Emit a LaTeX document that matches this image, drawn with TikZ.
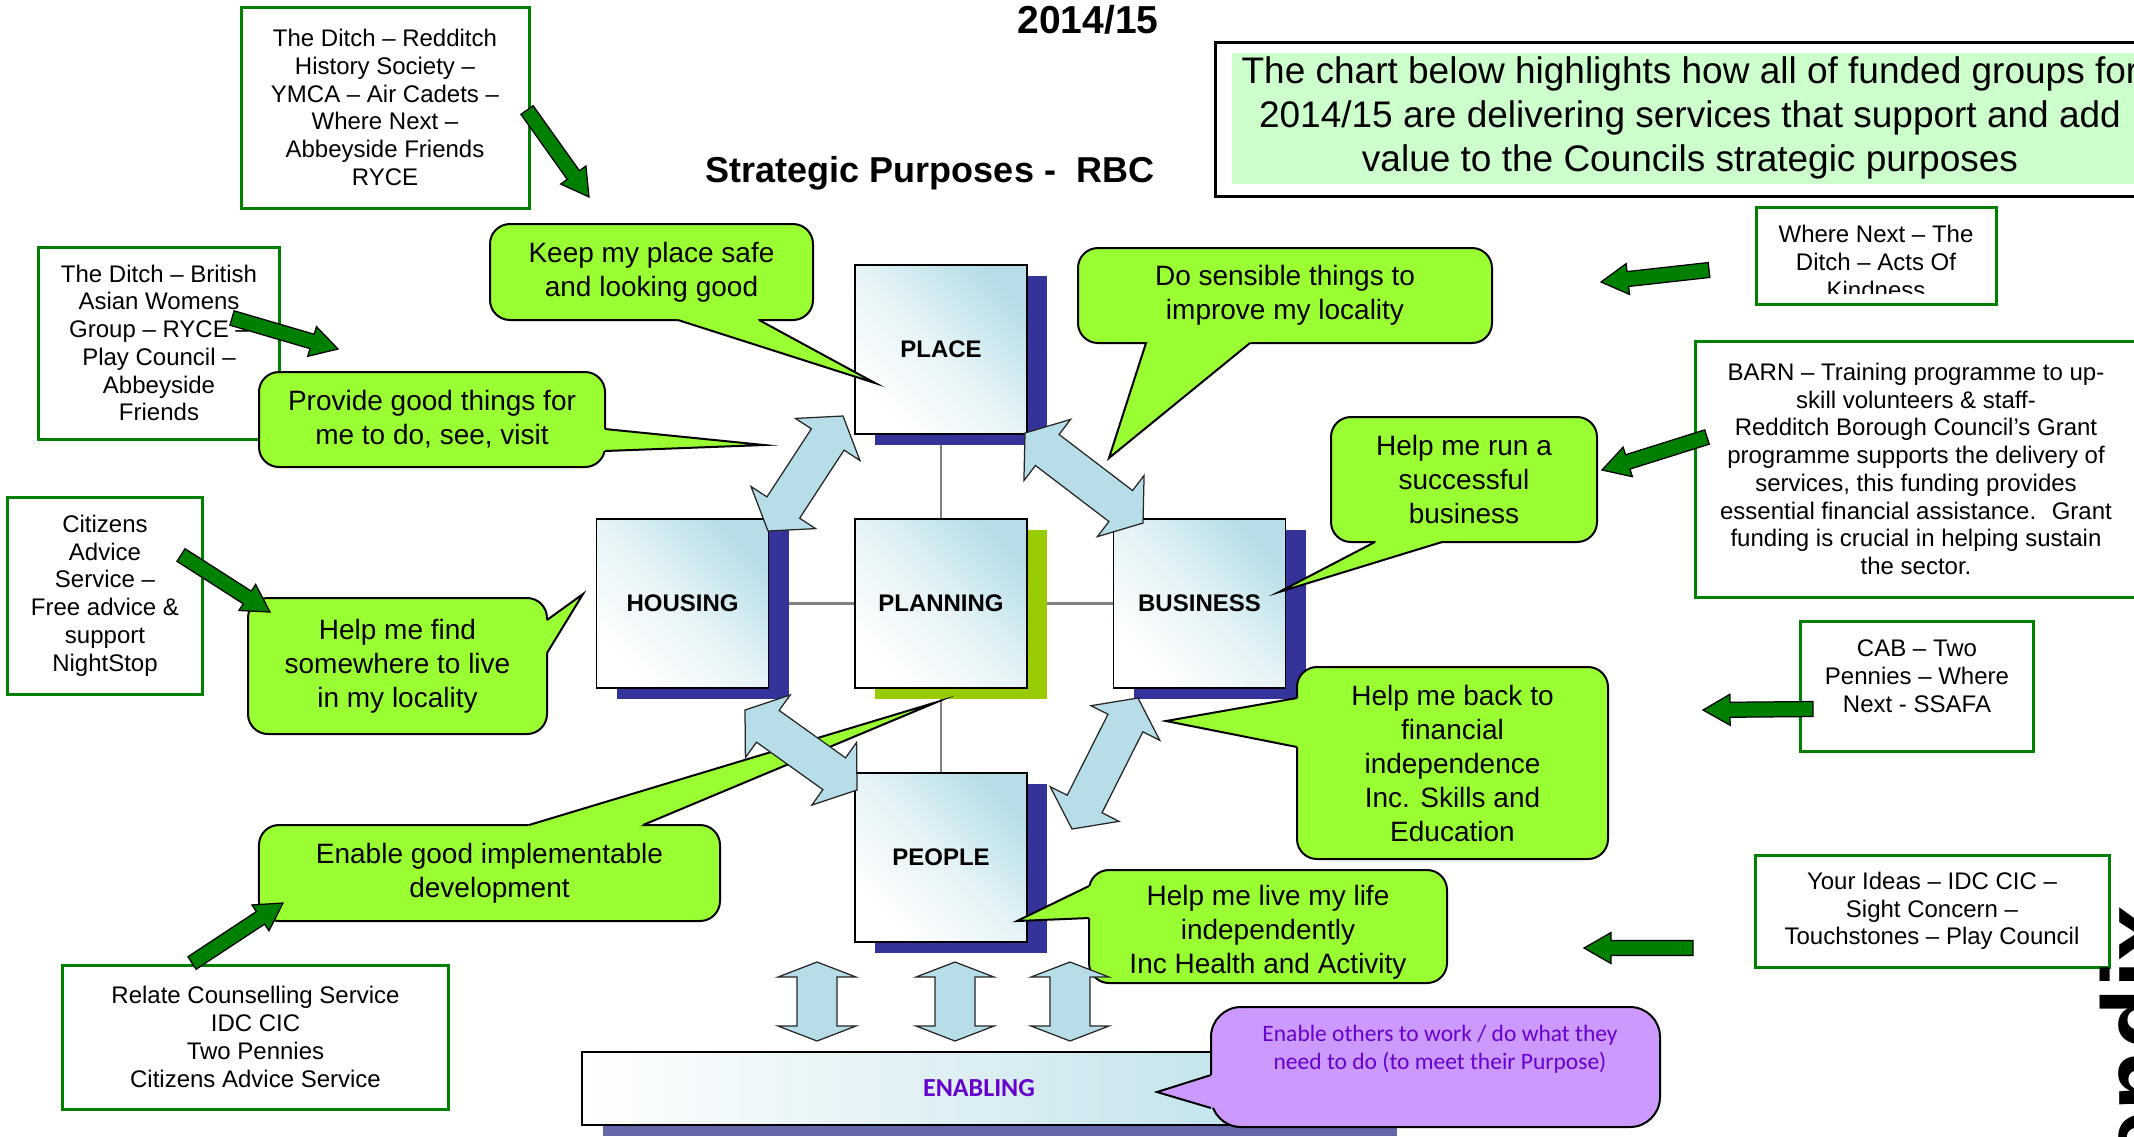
\documentclass[tikz,border=0pt]{standalone}
\usepackage{fontspec}
\setmainfont{Liberation Sans}
\newfontfamily\calib{Carlito}
\usetikzlibrary{calc}

\definecolor{bublime}{HTML}{99FF33}
\definecolor{grpgreen}{HTML}{008000}
\definecolor{boxshadow}{HTML}{333399}
\definecolor{plangreen}{HTML}{99CC00}
\definecolor{boxteal}{HTML}{B7DEE8}
\definecolor{headgreen}{HTML}{CCFFCC}
\definecolor{lilac}{HTML}{CC99FF}
\definecolor{purpletext}{HTML}{6600CC}
\definecolor{barshadow}{HTML}{6666AA}
\definecolor{linkgray}{HTML}{808080}

\tikzset{
  grpbox/.style={draw=grpgreen, line width=1.2pt, fill=white, align=center, inner sep=0pt,
    font=\fontsize{9.6}{11.1}\selectfont},
  grptext/.style={align=center, inner sep=0pt, font=\fontsize{9.6}{11.1}\selectfont},
  bubble/.style={draw, line width=0.8pt, fill=bublime, rounded corners=8pt, align=center,
    inner sep=0pt, font=\fontsize{11.2}{13.6}\selectfont},
  purpose/.style={draw, line width=0.6pt, minimum width=68.8pt, minimum height=67.6pt,
    inner sep=0pt, top color=boxteal, bottom color=white, middle color=boxteal!35,
    shading angle=-45, font=\fontsize{9.6}{11}\selectfont\bfseries},
  purshadow/.style={fill=boxshadow, minimum width=68.8pt, minimum height=67.6pt, inner sep=0pt},
  link/.style={draw=linkgray, line width=1.1pt},
  garrow/.style={fill=grpgreen, draw, line width=0.5pt, line join=miter},
  darrow/.style={fill=boxteal, draw=black!85, line width=0.5pt, line join=miter},
  tailline/.style={line width=0.8pt, line join=miter, miter limit=20},
}

% tail of a callout: node, base point, tip, base point
\newcommand{\bubtail}[5][bublime]{%
  \fill[#1] ($(#3)!0.12!(#2.center)$) -- (#3) -- (#4) -- (#5) -- ($(#5)!0.12!(#2.center)$) -- cycle;
  \draw[tailline] (#3) -- (#4) -- (#5);}

% green block arrow from #1 to #2
\newcommand{\grparrow}[2]{%
  \path ($(#2)!10.8pt!(#1)$) coordinate (hb);
  \filldraw[garrow] ($(#1)!3pt!90:(#2)$) -- ($(hb)!3pt!-90:(#1)$) -- ($(hb)!6.2pt!-90:(#1)$)
    -- (#2) -- ($(hb)!6.2pt!90:(#1)$) -- ($(hb)!3pt!90:(#1)$) -- ($(#1)!3pt!-90:(#2)$) -- cycle;}

% light blue double arrow: from, to, shaft half width, head half width, head length
\newcommand{\dblarrow}[5]{%
  \path ($(#1)!#5!(#2)$) coordinate (ha) ($(#2)!#5!(#1)$) coordinate (hb);
  \filldraw[darrow] (#1) -- ($(ha)!#4!90:(#2)$) -- ($(ha)!#3!90:(#2)$) -- ($(hb)!#3!-90:(#1)$)
    -- ($(hb)!#4!-90:(#1)$) -- (#2) -- ($(hb)!#4!90:(#1)$) -- ($(hb)!#3!90:(#1)$)
    -- ($(ha)!#3!-90:(#2)$) -- ($(ha)!#4!-90:(#2)$) -- cycle;}

\begin{document}
\begin{tikzpicture}[x=0.4pt, y=-0.4pt]
\useasboundingbox (0,0) rectangle (2134,1136);
\clip (0,0) rectangle (2134,1136);
\fill[white] (0,0) rectangle (2134,1136);

% titles
\node[font=\fontsize{15.6}{18}\selectfont\bfseries] (year) at (1088,20) {2014/15};
\node[font=\fontsize{14.4}{17}\selectfont\bfseries] (title) at (930,173) {Strategic Purposes -~ RBC};

% header note
\node[draw, line width=1.2pt, fill=white, minimum width=380pt, minimum height=61.6pt] (headbox) at (1690,119) {};
\node[fill=headgreen, minimum width=366.4pt, minimum height=52.4pt] (headfill) at (1690,118.5) {};
\node[align=center, inner sep=0pt, font=\fontsize{14.8}{17.6}\selectfont] (headtext) at (1690,118)
  {The chart below highlights how all of funded groups for\\
   2014/15 are delivering services that support and add\\
   value to the Councils strategic purposes};

% the five purposes
\coordinate (cplace) at (941,349.5);
\coordinate (chousing) at (682.5,603.5);
\coordinate (cplanning) at (941,603.5);
\coordinate (cbusiness) at (1199.5,603.5);
\coordinate (cpeople) at (941,857.5);
\draw[link] (cplace) -- (cpeople);
\draw[link] (chousing) -- (cbusiness);
\foreach \c in {place,housing,business,people}
  \node[purshadow] at ($(c\c)+(20,11)$) {};
\node[purshadow, fill=plangreen] at ($(cplanning)+(20,11)$) {};
\node[purpose] (place) at (cplace) {PLACE};
\node[purpose] (housing) at (chousing) {HOUSING};
\node[purpose] (planning) at (cplanning) {PLANNING};
\node[purpose] (business) at (cbusiness) {BUSINESS};
\node[purpose] (people) at (cpeople) {PEOPLE};

% enabling bar
\coordinate (cenab) at (979,1088.5);
\node[fill=barshadow, minimum width=317.6pt, minimum height=29.2pt] at ($(cenab)+(21,11)$) {};
\node[draw, line width=0.6pt, left color=white, right color=boxteal, minimum width=317.6pt,
  minimum height=29.2pt, text=purpletext, font=\calib\fontsize{10.4}{12}\selectfont\bfseries]
  (enabling) at (cenab) {ENABLING};

% funded groups
\node[grpbox, minimum width=115.2pt, minimum height=80.4pt] (ditchone) at (385,107.5)
  {The Ditch – Redditch\\History Society –\\YMCA – Air Cadets –\\Where Next –\\Abbeyside Friends\\RYCE};
\node[grpbox, minimum width=96pt, minimum height=76.8pt] (ditchtwo) at (159,343)
  {The Ditch – British\\Asian Womens\\Group – RYCE –\\Play Council –\\Abbeyside\\Friends};
\node[grpbox, minimum width=77.6pt, minimum height=78.8pt] (citizens) at (105,595.5)
  {Citizens\\Advice\\Service –\\Free advice \&\\support\\NightStop};
\node[grpbox, minimum width=154pt, minimum height=57.6pt] (relate) at (255.5,1037)
  {Relate Counselling Service\\IDC CIC\\Two Pennies\\Citizens Advice Service};
\node[grpbox, minimum width=96pt, minimum height=38.8pt] (wherenext) at (1876,255.5) {};
\begin{scope}
  \clip (1756,207) rectangle (1996,293);
  \node[grptext] (wheretext) at (1876,262) {Where Next – The\\Ditch – Acts Of\\Kindness};
\end{scope}
\node[grpbox, minimum width=176.8pt, minimum height=102.4pt] (barn) at (1916,469)
  {BARN – Training programme to up-\\skill volunteers \& staff-\\Redditch Borough Council’s Grant\\
   programme supports the delivery of\\services, this funding provides\\
   essential financial assistance.~ Grant\\funding is crucial in helping sustain\\the sector.};
\node[grpbox, minimum width=93.2pt, minimum height=52pt] (cab) at (1916.5,686) {};
\node[grptext] (cabtext) at (1917,676) {CAB – Two\\Pennies – Where\\Next - SSAFA};
\node[grpbox, minimum width=141.6pt, minimum height=44.8pt] (ideas) at (1932,911)
  {Your Ideas – IDC CIC –\\Sight Concern –\\Touchstones – Play Council};

% callouts
\coordinate (keeptip) at (875,383);
\coordinate (sensetip) at (1109,458);
\coordinate (providetip) at (764,445);
\coordinate (findtip) at (583,594);
\coordinate (runtip) at (1279,592);
\coordinate (backtip) at (1166,721);
\coordinate (devtip) at (937,702);
\coordinate (livetip) at (1017,921);
\coordinate (othertip) at (1157,1092);

\node[bubble, minimum width=129.2pt, minimum height=38.4pt] (keep) at (651.5,272)
  {Keep my place safe\\and looking good};
\bubtail{keep}{678,320}{keeptip}{759,320}
\node[bubble, minimum width=165.6pt, minimum height=38pt] (sensible) at (1285,295.5)
  {Do sensible things to\\improve my locality};
\bubtail{sensible}{1146,343}{sensetip}{1250,343}
\node[bubble, minimum width=138.4pt, minimum height=38pt] (provide) at (432,419.5)
  {Provide good things for\\me to do, see, visit};
\bubtail{provide}{605,429}{providetip}{605,451}
\node[bubble, minimum width=119.6pt, minimum height=54.4pt] (findhome) at (397.5,666)
  {Help me find\\somewhere to live\\in my locality};
\bubtail{findhome}{547,620}{findtip}{547,653}
\node[bubble, minimum width=106.4pt, minimum height=50pt] (runbiz) at (1464,479.5)
  {Help me run a\\successful\\business};
\bubtail{runbiz}{1375,542}{runtip}{1442,542}
\node[bubble, minimum width=124.4pt, minimum height=76.8pt] (backfin) at (1452.5,763)
  {Help me back to\\financial\\independence\\Inc. Skills and\\Education};
\bubtail{backfin}{1297,698}{backtip}{1297,747}
\node[bubble, minimum width=184.4pt, minimum height=38.4pt] (develop) at (489.5,873)
  {Enable good implementable\\development};
\bubtail{develop}{529,825}{devtip}{643,825}
\node[bubble, minimum width=143.2pt, minimum height=45.2pt] (livelife) at (1268,926.5) {};
\node[align=center, inner sep=0pt, font=\fontsize{11.2}{13.6}\selectfont] (livetext) at (1268,932)
  {Help me live my life\\independently\\Inc Health and Activity};
\bubtail{livelife}{1089,886}{livetip}{1089,918}
\node[bubble, fill=lilac, rounded corners=12pt, minimum width=179.6pt, minimum height=48pt]
  (others) at (1435.5,1067) {};
\bubtail[lilac]{others}{1211,1075}{othertip}{1211,1108}
\node[align=center, inner sep=0pt, text=purpletext, font=\calib\fontsize{9.4}{11.2}\selectfont]
  (othertext) at (1440,1049) {Enable others to work / do what they\\need to do (to meet their Purpose)};

% links between purposes
\coordinate (hpa) at (768,531);    \coordinate (hpb) at (843,416);
\coordinate (pba) at (1025,433);   \coordinate (pbb) at (1143,523);
\coordinate (hea) at (745,710);    \coordinate (heb) at (857,790);
\coordinate (bea) at (1138,698);   \coordinate (beb) at (1072,829);
\dblarrow{hpa}{hpb}{7.8pt}{15.4pt}{11.2pt}
\dblarrow{pba}{pbb}{7.8pt}{15.4pt}{11.2pt}
\dblarrow{hea}{heb}{7.8pt}{15.4pt}{11.2pt}
\dblarrow{bea}{beb}{7.8pt}{15.4pt}{11.2pt}
\foreach \x [count=\i] in {817,955,1070} {
  \coordinate (up\i) at (\x,962);
  \coordinate (dn\i) at (\x,1041);
  \dblarrow{up\i}{dn\i}{8pt}{15.6pt}{6pt}
}

% green pointers
\coordinate (g1a) at (527,110);   \coordinate (g1b) at (589,197);
\coordinate (g2a) at (232,318);   \coordinate (g2b) at (338,349);
\coordinate (g3a) at (181,555);   \coordinate (g3b) at (270,612);
\coordinate (g4a) at (192,963);   \coordinate (g4b) at (283,903);
\coordinate (g5a) at (1709,270);  \coordinate (g5b) at (1601,282);
\coordinate (g6a) at (1707,437);  \coordinate (g6b) at (1602,470);
\coordinate (g7a) at (1813,709);  \coordinate (g7b) at (1703,710);
\coordinate (g8a) at (1693,948);  \coordinate (g8b) at (1584,948);
\foreach \i in {1,...,8} {
  \grparrow{g\i a}{g\i b}
}

% page tag cut by the edge
\node[rotate=90, anchor=north east, inner sep=0pt, font=\fontsize{40}{44}\selectfont\bfseries]
  (pagetag) at (2100,905) {Appendix};
\end{tikzpicture}
\end{document}
